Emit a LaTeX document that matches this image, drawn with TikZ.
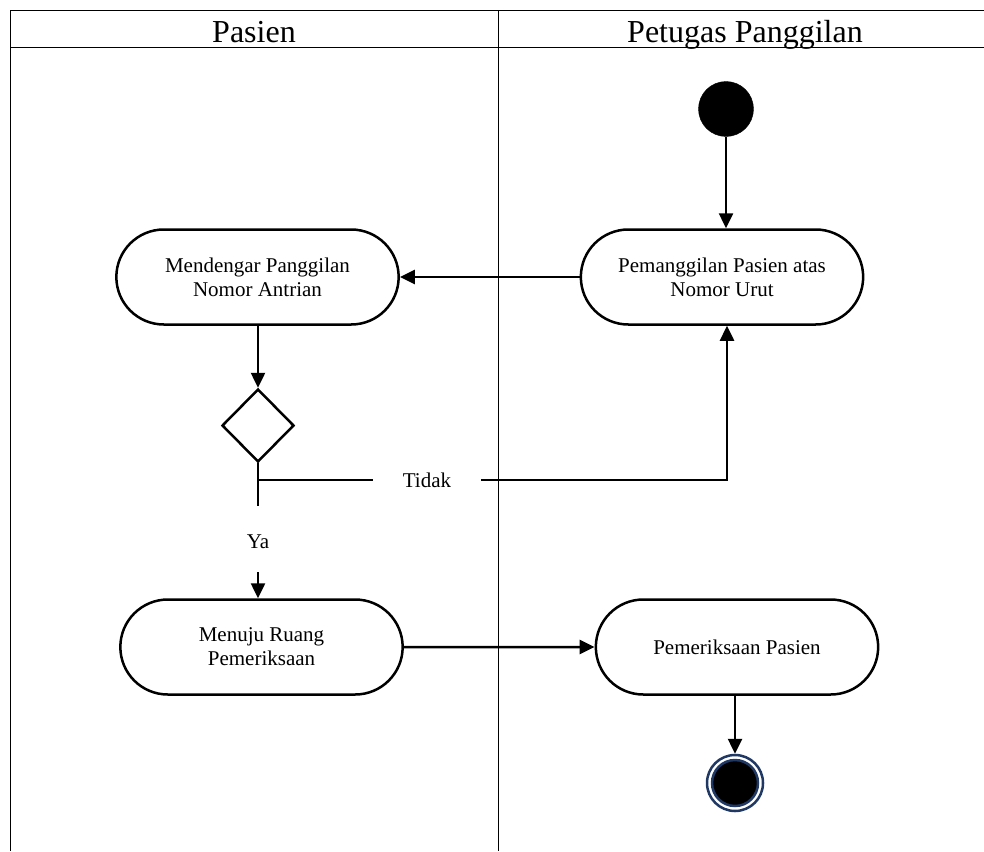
\documentclass[tikz,border=0pt]{standalone}
\usepackage{fontspec}
\setmainfont{Liberation Serif}
\usetikzlibrary{shapes.misc,shapes.geometric,arrows.meta}
\definecolor{ujung}{HTML}{1F3864}

\tikzstyle{aktivitas}=[draw,shape=rounded rectangle,line width=2.5pt,minimum width=289pt,minimum height=95pt,align=center,font=\fontsize{21}{24}\selectfont]
\tikzstyle{keputusan}=[draw,shape=diamond,line width=2.5pt,minimum width=72pt,minimum height=73pt,inner sep=0pt]
\tikzstyle{keterangan}=[font=\fontsize{21}{24}\selectfont]
\tikzstyle{judul}=[font=\fontsize{32}{36}\selectfont,anchor=base]
\tikzstyle{garis}=[line width=2.5pt]
\tikzstyle{panah}=[line width=2.5pt,-{Triangle[length=15pt,width=14pt]}]

\begin{document}
\begin{tikzpicture}[x=1pt,y=-1pt]
\useasboundingbox (0,0) rectangle (984,851);
% swimlane
\draw[line width=1pt] (10,11) -- (984,11);
\draw[line width=1pt] (10,48) -- (984,48);
\draw[line width=1pt] (10,11) -- (10,851);
\draw[line width=1pt] (498,11) -- (498,851);
\node[judul] (h-pasien)  at (254,42) {Pasien};
\node[judul] (h-petugas) at (745,42) {Petugas Panggilan};

\node[draw,circle,fill,minimum size=55pt,inner sep=0pt] (mulai) at (726,109) {};
\node[aktivitas] at (722,277)   (panggil) {Pemanggilan Pasien atas\\Nomor Urut};
\node[aktivitas] at (257.5,277) (dengar)  {Mendengar Panggilan\\Nomor Antrian};
\node[keputusan] at (258,425.5) (cek)     {};
\node[keterangan,minimum width=108pt,inner sep=0pt] at (427,480) (tidak) {Tidak};
\node[keterangan] at (258,542)  (ya)      {Ya};
\node[aktivitas] at (261.5,647) (menuju)  {Menuju Ruang\\Pemeriksaan};
\node[aktivitas] at (737,647)   (periksa) {Pemeriksaan Pasien};
\node[draw=ujung,circle,line width=2.5pt,minimum size=56pt,inner sep=0pt] at (735,783) (selesai) {};
\node[draw=ujung,circle,fill=black,line width=2.5pt,minimum size=46pt,inner sep=0pt] at (735,783) (selesai-isi) {};

\coordinate (tidak-kiri)  at (258,480);
\coordinate (tidak-kanan) at (727,480);
\coordinate (ya-atas)     at (258,506);
\coordinate (ya-bawah)    at (258,572);

\draw[panah] (mulai.south) -- (mulai.south |- panggil.north);
\draw[panah] (panggil.west) -- (dengar.east);
\draw[panah] (dengar.south -| cek) -- (cek.north);
\draw[garis] (cek.south) -- (ya-atas);
\draw[garis] (tidak-kiri) -- (tidak.west);
\draw[panah] (tidak.east) -- (tidak-kanan) -- (tidak-kanan |- panggil.south);
\draw[panah] (ya-bawah) -- (ya-bawah |- menuju.north);
\draw[panah] (menuju) -- (periksa);
\draw[panah] (periksa.south -| selesai) -- (selesai.north);
\end{tikzpicture}
\end{document}
